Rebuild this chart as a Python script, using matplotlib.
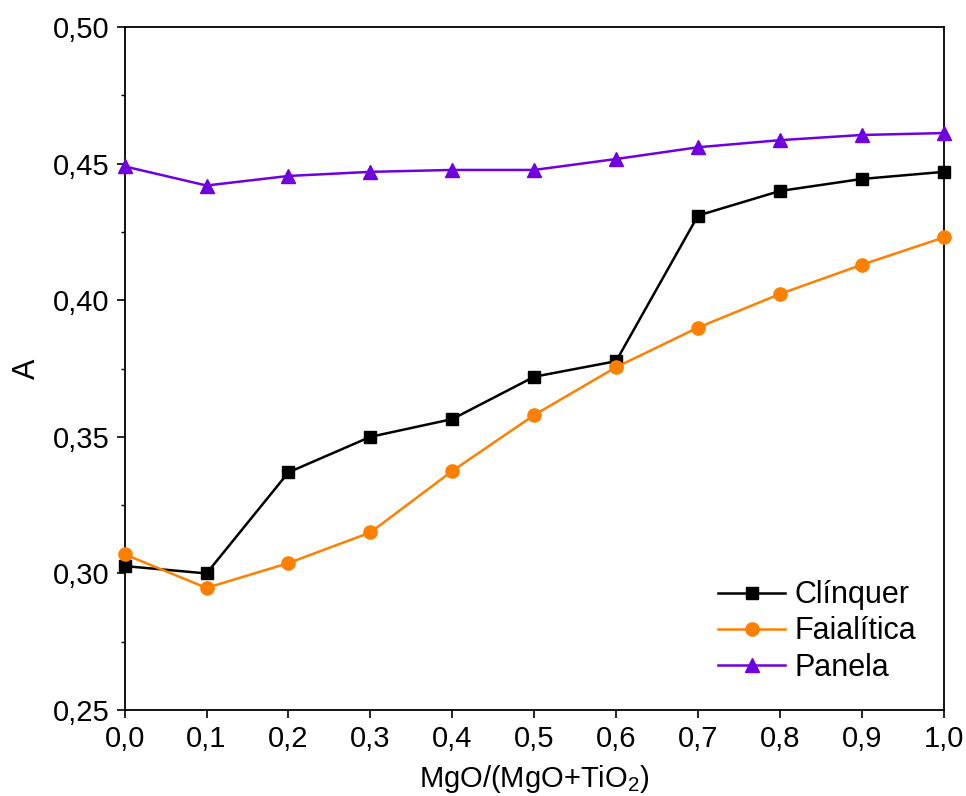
import numpy as np
import matplotlib
matplotlib.use("Agg")
import matplotlib.pyplot as plt
from matplotlib.ticker import MultipleLocator, FuncFormatter

plt.rcParams['font.family'] = ['Liberation Sans', 'DejaVu Sans']
plt.rcParams['mathtext.fontset'] = 'custom'
plt.rcParams['mathtext.rm'] = 'Liberation Sans'

x = [0.0, 0.1, 0.2, 0.3, 0.4, 0.5, 0.6, 0.7, 0.8, 0.9, 1.0]
clinquer = [0.3027, 0.300, 0.337, 0.350, 0.3565, 0.372, 0.3777, 0.431, 0.440, 0.4444, 0.447]
faialitica = [0.307, 0.2947, 0.3038, 0.315, 0.3375, 0.358, 0.3755, 0.390, 0.4023, 0.413, 0.423]
panela = [0.449, 0.442, 0.4455, 0.447, 0.4477, 0.4477, 0.4517, 0.456, 0.4586, 0.4605, 0.4612]

fig = plt.figure(figsize=(9.66, 7.96), dpi=100)
ax = fig.add_axes([0.129, 0.108, 0.848, 0.858])

ax.plot(x, clinquer, color='black', marker='s', ms=8.5, lw=1.8, label='Clínquer', clip_on=False, zorder=3)
ax.plot(x, faialitica, color='#ff8000', marker='o', ms=9.5, lw=1.8, label='Faialítica', clip_on=False, zorder=3)
ax.plot(x, panela, color='#7000e0', marker='^', ms=10, lw=1.8, label='Panela', clip_on=False, zorder=3)

ax.set_xlim(0, 1.0)
ax.set_ylim(0.25, 0.50)
ax.xaxis.set_major_locator(MultipleLocator(0.1))
ax.yaxis.set_major_locator(MultipleLocator(0.05))
ax.yaxis.set_minor_locator(MultipleLocator(0.025))
ax.xaxis.set_major_formatter(FuncFormatter(lambda v, p: f"{v:.1f}".replace('.', ',')))
ax.yaxis.set_major_formatter(FuncFormatter(lambda v, p: f"{v:.2f}".replace('.', ',')))

ax.tick_params(axis='both', which='major', direction='out', length=6, width=1.2, labelsize=21, pad=5)
ax.tick_params(axis='y', which='minor', direction='out', length=3, width=1.0)
for s in ax.spines.values():
    s.set_linewidth(1.3)

ax.set_xlabel(r'MgO/(MgO+TiO$_2$)', fontsize=21, labelpad=7)
ax.set_ylabel('A', fontsize=22, labelpad=8)

ax.legend(loc='lower right', frameon=False, fontsize=22, handlelength=2.2,
          handletextpad=0.3, labelspacing=0.2, borderaxespad=0.5)

fig.savefig('out.png', dpi=100)
